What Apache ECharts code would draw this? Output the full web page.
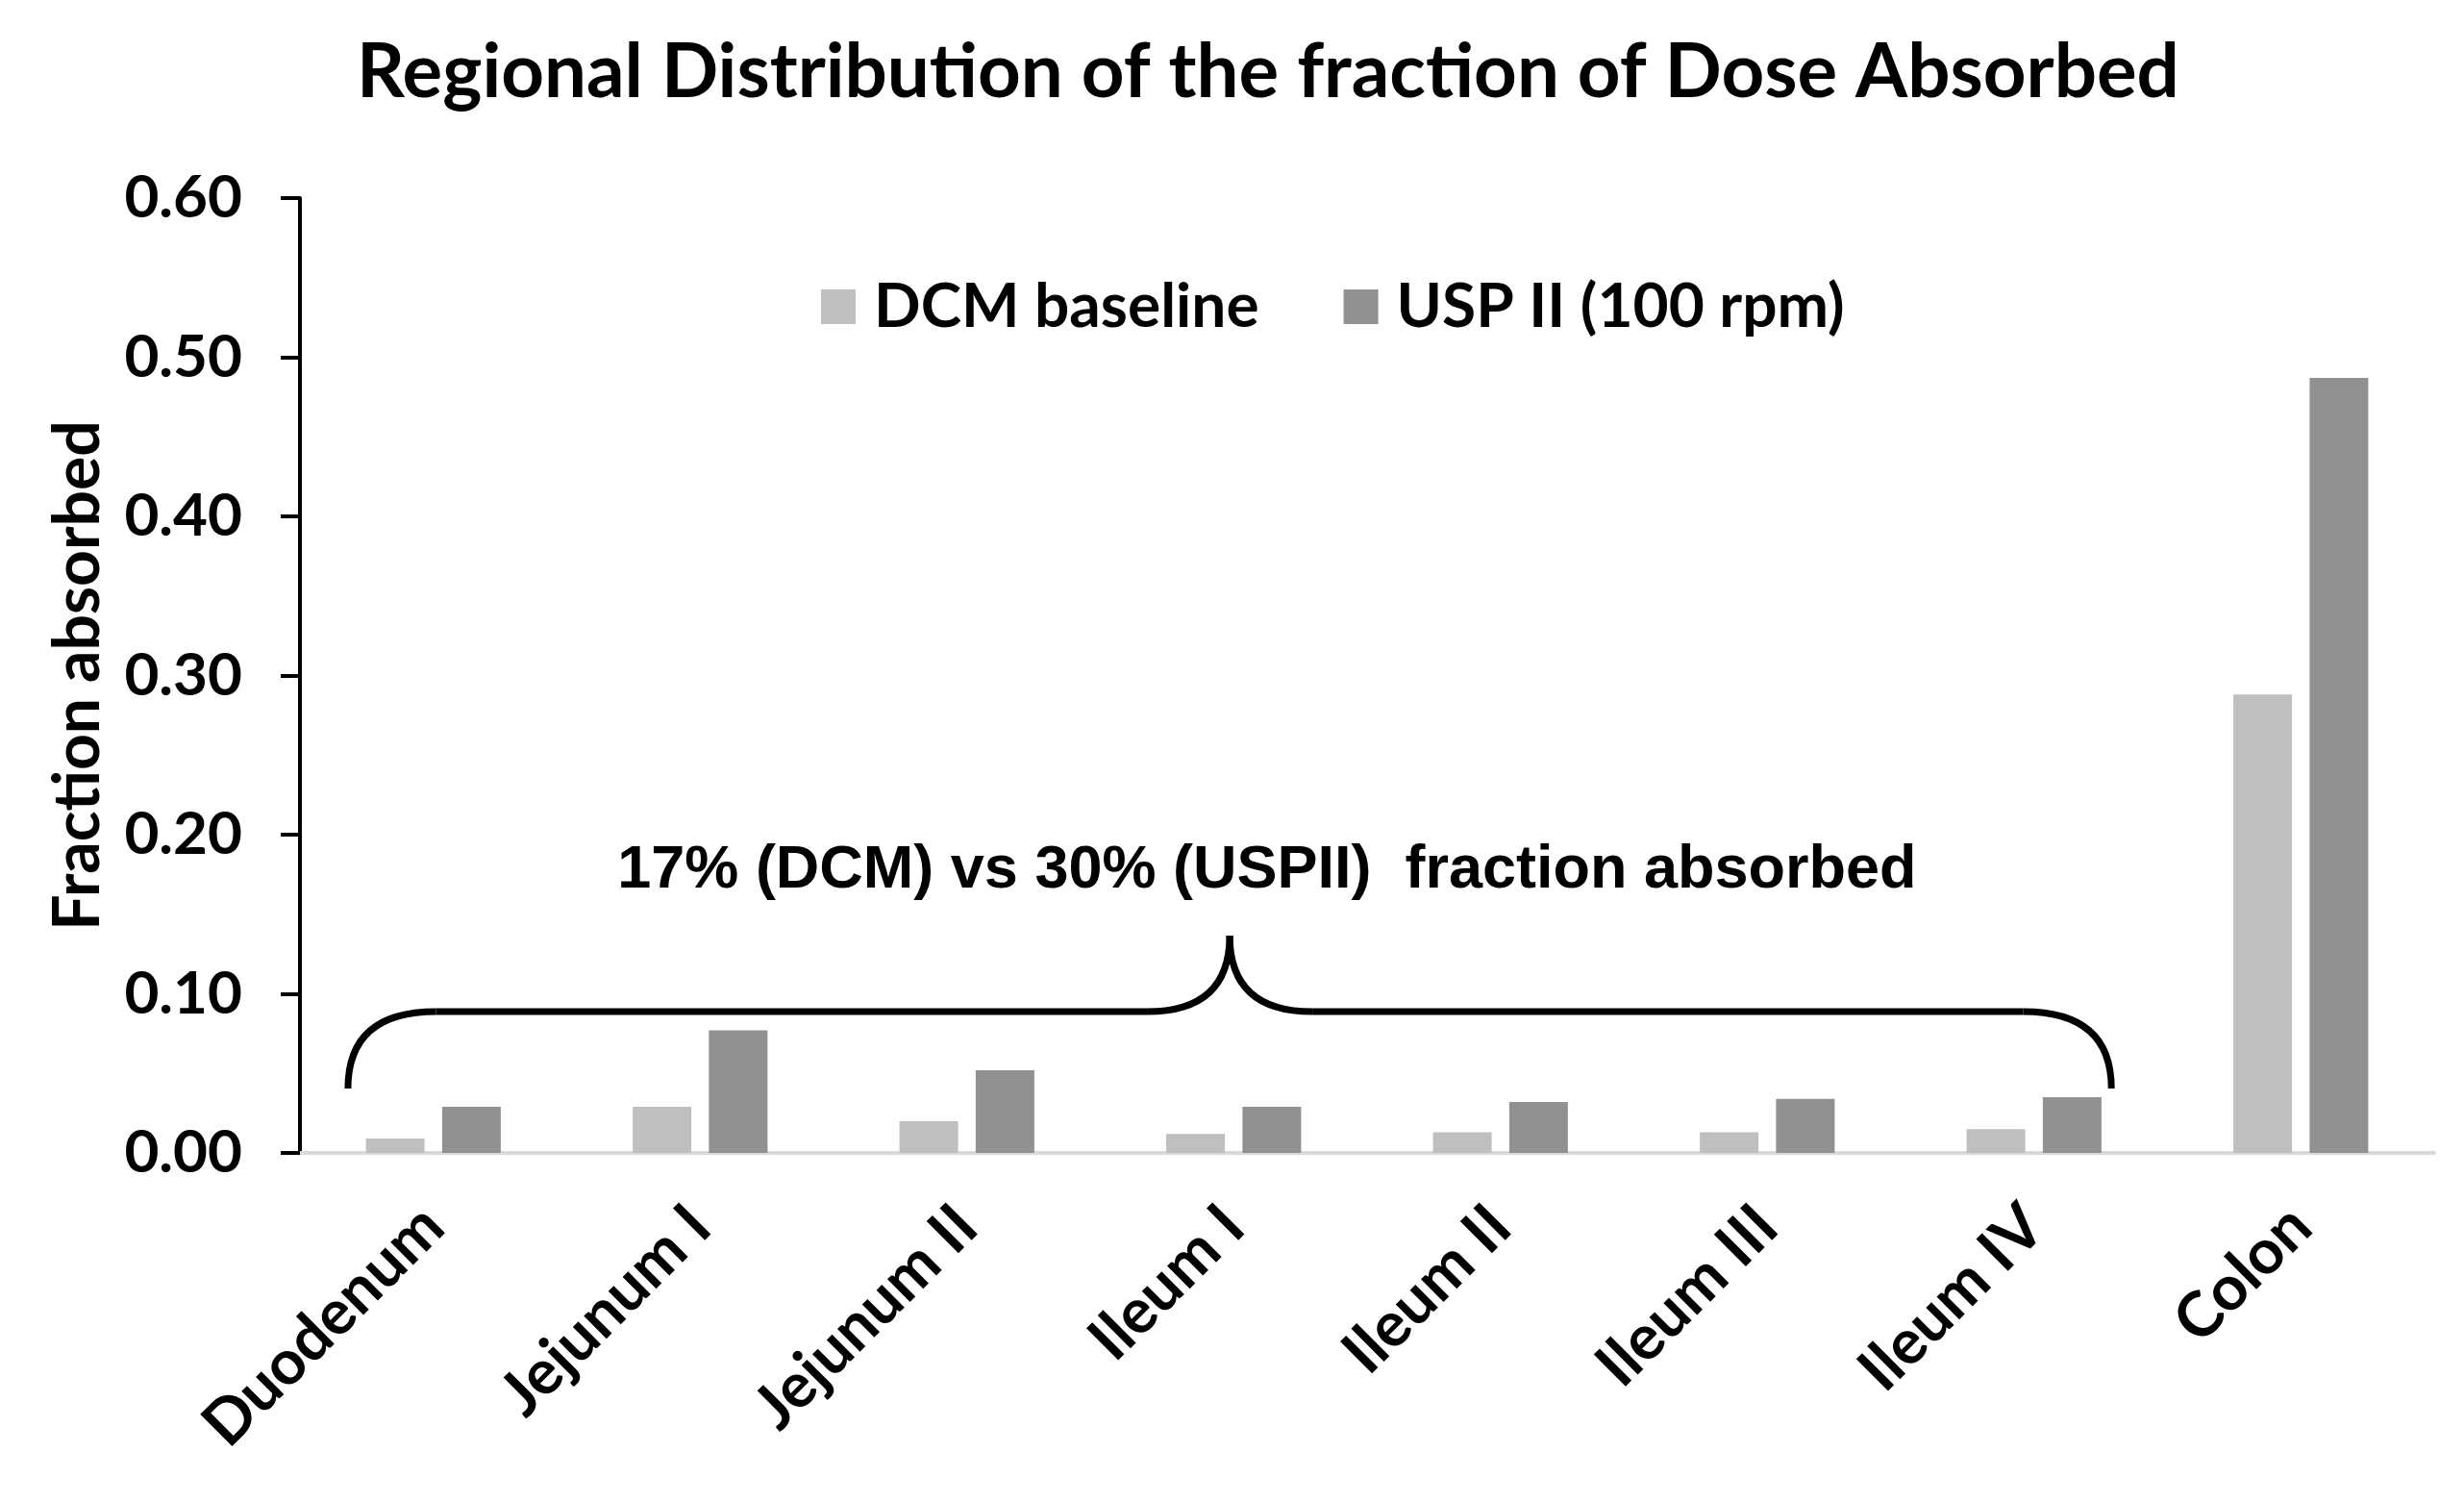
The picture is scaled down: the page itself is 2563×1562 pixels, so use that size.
<!DOCTYPE html>
<html>
<head>
    <meta charset="utf-8">
    <title>Regional Distribution of the fraction of Dose Absorbed</title>
    <script src="https://cdn.jsdelivr.net/npm/echarts@6/dist/echarts.min.js"></script>
    <style>
        html, body { margin: 0; padding: 0; background: #fff; }
        #main { width: 2563px; height: 1562px; }
    </style>
</head>
<body>
<div id="main"></div>
<script type="text/javascript">
    // ---- data ----
    var regions = ['Duodenum', 'Jejunum I', 'Jejunum II', 'Ileum I', 'Ileum II', 'Ileum III', 'Ileum IV', 'Colon'];
    var dcmBaseline = [0.009, 0.029, 0.020, 0.012, 0.013, 0.013, 0.015, 0.288];
    var uspII = [0.029, 0.077, 0.052, 0.029, 0.032, 0.034, 0.035, 0.487];
    var seriesNames = ['DCM baseline', 'USP II (100 rpm)'];
    var yTicks = { min: 0, max: 0.6, interval: 0.1 };
    var noteText = '17% (DCM) vs 30% (USPII)  fraction absorbed';

    var calibriLike = 'Lato, "Open Sans", sans-serif';

    var chart = echarts.init(document.getElementById('main'));
    var option = {
        backgroundColor: '#fff',
        animation: false,
        title: {
            text: 'Regional Distribution of the fraction of Dose Absorbed',
            left: 366,
            top: 32,
            textStyle: { fontFamily: calibriLike, fontWeight: 'bold', fontSize: 78, color: '#000' }
        },
        legend: {
            data: seriesNames,
            left: 849,
            top: 282,
            icon: 'rect',
            itemWidth: 36,
            itemHeight: 36,
            itemGap: 88,
            textStyle: { fontFamily: calibriLike, fontWeight: 'bold', fontSize: 64, color: '#000', padding: [0, 0, 0, 14] }
        },
        grid: { left: 312, right: 31, top: 206, bottom: 363 },
        xAxis: {
            type: 'category',
            data: regions,
            axisLine: { lineStyle: { color: '#d9d9d9', width: 4 } },
            axisTick: { show: false },
            axisLabel: {
                rotate: 45,
                margin: 66,
                interval: 0,
                fontFamily: calibriLike,
                fontWeight: 'bold',
                fontSize: 65,
                color: '#000',
                padding: [0, 0, 0, 0]
            }
        },
        yAxis: {
            type: 'value',
            min: yTicks.min,
            max: yTicks.max,
            interval: yTicks.interval,
            name: 'Fraction absorbed',
            nameLocation: 'middle',
            nameGap: 197,
            nameTextStyle: { fontFamily: calibriLike, fontWeight: 'bold', fontSize: 66, color: '#000' },
            axisLine: { show: true, lineStyle: { color: '#000', width: 4 } },
            axisTick: { show: true, length: 20, lineStyle: { color: '#000', width: 4 } },
            splitLine: { show: false },
            axisLabel: {
                margin: 60,
                fontFamily: calibriLike,
                fontWeight: 'bold',
                fontSize: 62,
                color: '#000',
                formatter: function (v) { return v.toFixed(2); }
            }
        },
        series: [
            {
                name: seriesNames[0],
                type: 'bar',
                data: dcmBaseline,
                barWidth: 61,
                barGap: '30%',
                itemStyle: { color: '#bfbfbf' }
            },
            {
                name: seriesNames[1],
                type: 'bar',
                data: uspII,
                barWidth: 61,
                barGap: '30%',
                itemStyle: { color: '#919191' }
            }
        ]
    };
    chart.setOption(option);

    // ---- brace + note, placed from axis coordinates ----
    function px(i, v) {
        var a = chart.convertToPixel({ gridIndex: 0 }, [0, v]);
        var b = chart.convertToPixel({ gridIndex: 0 }, [1, v]);
        return [a[0] + i * (b[0] - a[0]), a[1]];
    }
    var L = px(-0.32, 0.0405), R = px(6.29, 0.0405);
    var lineY = px(0, 0.0888)[1], tipY = px(0, 0.1366)[1];
    var mid = (L[0] + R[0]) / 2;
    var bw = px(1, 0)[0] - px(0, 0)[0];
    var rc = 0.33 * bw, rt = 0.31 * bw;
    var braceStyle = { fill: 'none', stroke: '#000', lineWidth: 7 };

    function curve(x1, y1, cx, cy, x2, y2) {
        return {
            type: 'bezierCurve',
            shape: { x1: x1, y1: y1, cpx1: cx, cpy1: cy, x2: x2, y2: y2 },
            style: braceStyle
        };
    }
    function seg(x1, y1, x2, y2) {
        return { type: 'line', shape: { x1: x1, y1: y1, x2: x2, y2: y2 }, style: braceStyle };
    }
    var notePos = px(3.125, 0.177);

    chart.setOption({
        graphic: [
            curve(L[0], L[1], L[0], lineY, L[0] + rc, lineY),
            seg(L[0] + rc, lineY, mid - rt, lineY),
            curve(mid - rt, lineY, mid, lineY, mid, tipY),
            curve(mid, tipY, mid, lineY, mid + rt, lineY),
            seg(mid + rt, lineY, R[0] - rc, lineY),
            curve(R[0] - rc, lineY, R[0], lineY, R[0], R[1]),
            {
                type: 'text',
                x: notePos[0],
                y: notePos[1],
                style: {
                    text: noteText,
                    fontFamily: '"Liberation Sans", Arial, sans-serif',
                    fontWeight: 'bold',
                    fontSize: 63,
                    fill: '#000',
                    align: 'center',
                    verticalAlign: 'middle'
                }
            }
        ]
    });
</script>
</body>
</html>
